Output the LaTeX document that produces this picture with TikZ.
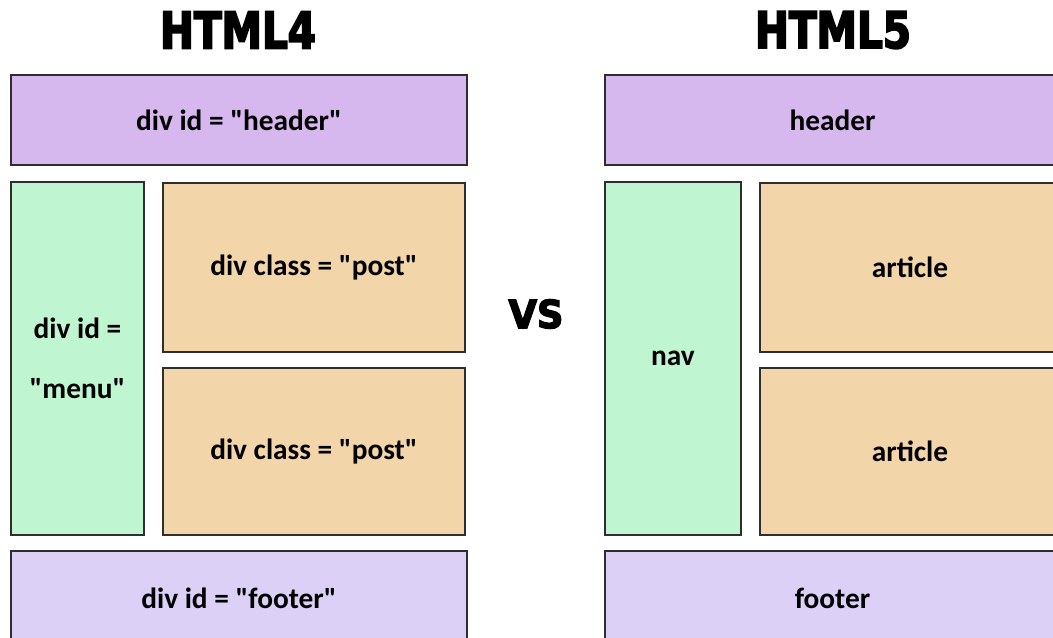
\documentclass[tikz,border=0pt]{standalone}
\usepackage{fontspec}
\setmainfont{Carlito}[Ligatures=TeXOff]
\newfontfamily\titlefont{DejaVu Sans}[FakeStretch=0.8, BoldFeatures={FakeBold=3.5}]
\newfontfamily\vsfont{DejaVu Sans}[FakeStretch=0.95, BoldFeatures={FakeBold=3.5}]
\usepackage{tikz}
\definecolor{headpurple}{HTML}{D6B7EE}
\definecolor{footpurple}{HTML}{DCD0F6}
\definecolor{navgreen}{HTML}{C0F5D1}
\definecolor{postorange}{HTML}{F2D5A9}
\definecolor{edgegray}{HTML}{2E2E2E}

\begin{document}
\begin{tikzpicture}[x=0.75pt, y=-0.75pt,
		panel/.style n args={3}{
			rectangle,
			draw=edgegray,
			line width=1.5pt,
			fill=#1,
			minimum width=#2*0.75pt,
			minimum height=#3*0.75pt,
			inner sep=0pt,
			align=center,
			font=\bfseries\fontsize{22}{45}\selectfont},
		title/.style={font=\titlefont\bfseries\fontsize{38}{40}\selectfont, inner sep=0pt}
		]
		\clip (0,0) rectangle (1053,638);
		% HTML4 side
		\node [title] (t4) at (238, 30) {HTML4};
		\node [panel={headpurple}{456}{90}] (h4) at (239, 120) {div id = "header"};
		\node [panel={navgreen}{133}{353}] (menu) at (77.5, 358.5) {div id =\\"menu"};
		\node [panel={postorange}{302}{169}] (post1) at (314, 267.5) {div class = "post"};
		\node [panel={postorange}{302}{167}] (post2) at (314, 451.5) {div class = "post"};
		\node [panel={footpurple}{456}{94}] (f4) at (239, 598) {div id = "footer"};
		% middle
		\node [font=\vsfont\bfseries\fontsize{29}{30}\selectfont, inner sep=0pt] (vs) at (536, 314) {VS};
		% HTML5 side
		\node [title] (t5) at (833, 30) {HTML5};
		\node [panel={headpurple}{455}{90}] (h5) at (832.5, 120) {header};
		\node [panel={navgreen}{136}{353}] (nav) at (673, 358.5) {nav};
		\node [panel={postorange}{300}{169}] (art1) at (910, 267.5) {article};
		\node [panel={postorange}{300}{167}] (art2) at (910, 451.5) {article};
		\node [panel={footpurple}{455}{94}] (f5) at (832.5, 598) {footer};
\end{tikzpicture}
\end{document}
